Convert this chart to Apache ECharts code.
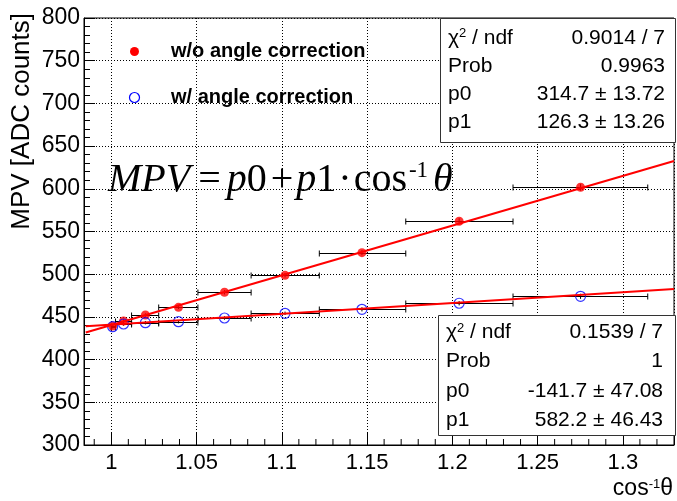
<!DOCTYPE html>
<html>
<head>
<meta charset="utf-8">
<script src="https://cdn.jsdelivr.net/npm/echarts@6/dist/echarts.min.js"></script>
<style>html,body{margin:0;padding:0;background:#fff}#c{width:677px;height:501px}</style>
</head>
<body>
<div id="c"></div>
<script>
// ---- data ----
const xVals  = [1.0008, 1.0072, 1.0200, 1.0394, 1.0664, 1.1019, 1.1470, 1.2040, 1.2752];
const xLow   = [1.0000, 1.0025, 1.0119, 1.0278, 1.0508, 1.0820, 1.1220, 1.1727, 1.2356];
const xHigh  = [1.0025, 1.0119, 1.0278, 1.0508, 1.0820, 1.1220, 1.1727, 1.2356, 1.3146];
const redY   = [439.3, 445.2, 452.2, 461.2, 478.8, 498.7, 525.2, 562.0, 601.8];
const redErr = [2.0, 2.0, 2.0, 2.0, 2.5, 2.5, 3.0, 3.5, 4.0];
const blueY  = [438.5, 441.7, 443.2, 444.4, 448.7, 454.2, 458.9, 466.0, 474.1];
const blueErr= [2.0, 2.0, 2.0, 2.0, 2.0, 2.0, 2.5, 2.5, 3.0];
const fitX    = [0.985, 1.33];
const redFit  = [431.8, 632.6];
const blueFit = [439.1, 482.7];
const xTickLabels = [1, 1.05, 1.1, 1.15, 1.2, 1.25, 1.3];
const yTickLabels = [300, 350, 400, 450, 500, 550, 600, 650, 700, 750, 800];
const xMinorTicks = [0.99, 1.01, 1.02, 1.03, 1.04, 1.06, 1.07, 1.08, 1.09, 1.11, 1.12, 1.13, 1.14,
  1.16, 1.17, 1.18, 1.19, 1.21, 1.22, 1.23, 1.24, 1.26, 1.27, 1.28, 1.29, 1.31, 1.32];
const stats1 = [["χ{s|2} / ndf", "0.9014 / 7"], ["Prob", "0.9963"], ["p0", "314.7 ± 13.72"], ["p1", "126.3 ± 13.26"]];
const stats2 = [["χ{s|2} / ndf", "0.1539 / 7"], ["Prob", "1"], ["p0", "-141.7 ± 47.08"], ["p1", "582.2 ± 46.43"]];
const legendNames = ["w/o angle correction", "w/ angle correction"];

const SANS = '"Liberation Sans", Arial, Helvetica, sans-serif';
const SERIF = '"Liberation Serif", "Times New Roman", serif';

const chart = echarts.init(document.getElementById('c'), null, {renderer: 'canvas'});

function errBarItem(params, api) {
  const x = api.value(0), y = api.value(1), lo = api.value(2), hi = api.value(3), e = api.value(4);
  const pL = api.coord([lo, y]), pR = api.coord([hi, y]);
  const pT = api.coord([x, y + e]), pB = api.coord([x, y - e]);
  const st = {stroke: '#000', lineWidth: 1};
  const cap = 3;
  const yy = Math.round(pL[1]) + 0.5;
  return {type: 'group', children: [
    {type: 'line', shape: {x1: pL[0], y1: yy, x2: pR[0], y2: yy}, style: st},
    {type: 'line', shape: {x1: pL[0], y1: yy - cap, x2: pL[0], y2: yy + cap}, style: st},
    {type: 'line', shape: {x1: pR[0], y1: yy - cap, x2: pR[0], y2: yy + cap}, style: st},
    {type: 'line', shape: {x1: pT[0], y1: pT[1], x2: pB[0], y2: pB[1]}, style: st}
  ]};
}

function statsBox(x, y, w, h, rows, rowY, rightX) {
  const els = [{type: 'rect', z: 100, shape: {x: x + 0.5, y: y + 0.5, width: w, height: h},
    style: {fill: '#fff', stroke: '#333', lineWidth: 1}}];
  rows.forEach((r, i) => {
    els.push({type: 'text', z: 101, x: x + 8, y: rowY[i], style: {text: r[0], font: '21px ' + SANS,
      fill: '#000', align: 'left', verticalAlign: 'middle',
      rich: {s: {fontSize: 13, fontFamily: SANS, verticalAlign: 'top', padding: [0, 0, 8, 0]}}}});
    els.push({type: 'text', z: 101, x: rightX, y: rowY[i], style: {text: r[1], font: '21px ' + SANS,
      fill: '#000', align: 'right', verticalAlign: 'middle'}});
  });
  return els;
}

const option = {
  animation: false,
  backgroundColor: '#fff',
  grid: {left: 84, top: 18, right: 1, bottom: 56, show: true, borderColor: '#000', borderWidth: 1, backgroundColor: 'transparent'},
  xAxis: {
    type: 'value', min: 0.984, max: 1.33, minInterval: 0.05, maxInterval: 0.05,
    axisLine: {show: true, onZero: false, lineStyle: {color: '#000', width: 1}},
    axisTick: {show: true, inside: true, length: 12, lineStyle: {color: '#000'}},
    minorTick: {show: false},
    splitLine: {show: true, lineStyle: {color: '#000', type: [1, 2], width: 1}},
    axisLabel: {color: '#000', fontFamily: SANS, fontSize: 22, margin: 7,
      formatter: function (v) {
        const k = v * 20;
        if (Math.abs(k - Math.round(k)) > 1e-6) return '';
        const idx = xTickLabels.findIndex(t => Math.abs(t - v) < 1e-6);
        return idx >= 0 ? String(xTickLabels[idx]) : '';
      }}
  },
  yAxis: {
    type: 'value', min: 300, max: 800, interval: 50,
    axisLine: {show: true, onZero: false, lineStyle: {color: '#000', width: 1}},
    axisTick: {show: true, inside: true, length: 11, lineStyle: {color: '#000'}},
    minorTick: {show: true, splitNumber: 5, length: 6, lineStyle: {color: '#000'}},
    splitLine: {show: true, lineStyle: {color: '#000', type: [1, 2], width: 1}},
    axisLabel: {color: '#000', fontFamily: SANS, fontSize: 23, margin: 4,
      formatter: function (v) { return yTickLabels.indexOf(v) >= 0 ? String(v) : ''; }}
  },
  series: [
    {type: 'custom', name: 'xminor', silent: true, z: 3, clip: false,
      data: xMinorTicks.map(v => [v]),
      renderItem: function (params, api) {
        const p = api.coord([api.value(0), 300]);
        return {type: 'line', shape: {x1: p[0], y1: p[1], x2: p[0], y2: p[1] - 6}, style: {stroke: '#000', lineWidth: 1}};
      }},
    {type: 'custom', name: 'errRed', silent: true, z: 4,
      data: xVals.map((x, i) => [x, redY[i], xLow[i], xHigh[i], redErr[i]]), renderItem: errBarItem},
    {type: 'custom', name: 'errBlue', silent: true, z: 4,
      data: xVals.map((x, i) => [x, blueY[i], xLow[i], xHigh[i], blueErr[i]]), renderItem: errBarItem},
    {type: 'scatter', name: legendNames[0], z: 5, symbol: 'circle', symbolSize: 9,
      itemStyle: {color: '#ff0000'}, data: xVals.map((x, i) => [x, redY[i]])},
    {type: 'scatter', name: legendNames[1], z: 5, symbol: 'circle', symbolSize: 10,
      itemStyle: {color: 'rgba(255,255,255,0)', borderColor: '#0000ff', borderWidth: 1.2},
      data: xVals.map((x, i) => [x, blueY[i]])},
    {type: 'line', name: 'fitRed', z: 6, showSymbol: false, symbol: 'none',
      lineStyle: {color: '#ff0000', width: 2}, data: fitX.map((x, i) => [x, redFit[i]])},
    {type: 'line', name: 'fitBlue', z: 6, showSymbol: false, symbol: 'none',
      lineStyle: {color: '#ff0000', width: 2}, data: fitX.map((x, i) => [x, blueFit[i]])}
  ],
  graphic: [
    // legend
    {type: 'circle', shape: {cx: 134.5, cy: 51.5, r: 4.5}, style: {fill: '#ff0000'}, z: 50},
    {type: 'text', x: 171, y: 51.5, z: 50, style: {text: legendNames[0], font: 'bold 20px ' + SANS, fill: '#000', verticalAlign: 'middle'}},
    {type: 'circle', shape: {cx: 134.5, cy: 97.5, r: 5}, style: {fill: 'none', stroke: '#0000ff', lineWidth: 1.2}, z: 50},
    {type: 'text', x: 171, y: 97.5, z: 50, style: {text: legendNames[1], font: 'bold 20px ' + SANS, fill: '#000', verticalAlign: 'middle'}},
    // formula
    {type: 'text', x: 108, y: 180, z: 50, style: {
      text: '{i|MPV}{o1|=}{i|p}{r|0}{o2|+}{i|p}{r|1}{d|·}{r|cos}{s|-1}{t|θ}',
      verticalAlign: 'middle', align: 'left',
      rich: {
        i: {fontFamily: SERIF, fontStyle: 'italic', fontSize: 40, color: '#000'},
        t: {fontFamily: SERIF, fontStyle: 'italic', fontSize: 40, color: '#000', padding: [0, 0, 0, 5]},
        r: {fontFamily: SERIF, fontSize: 40, color: '#000'},
        o1: {fontFamily: SERIF, fontSize: 40, color: '#000', padding: [0, 6, 0, 8]},
        o2: {fontFamily: SERIF, fontSize: 40, color: '#000', padding: [0, 3, 0, 4]},
        d: {fontFamily: SERIF, fontSize: 40, color: '#000', padding: [0, 2, 0, 2]},
        s: {fontFamily: SERIF, fontSize: 23, color: '#000', verticalAlign: 'top', padding: [0, 0, 18, 2]}
      }}},
    // y axis title
    {type: 'text', x: 22, y: 13, rotation: Math.PI / 2, z: 50, style: {text: 'MPV [ADC counts]', font: '26px ' + SANS,
      fill: '#000', align: 'right', verticalAlign: 'middle'}},
    // x axis title
    {type: 'text', x: 673, y: 489, z: 50, style: {text: 'cos{s|-1}θ', font: '23px ' + SANS, fill: '#000', align: 'right', verticalAlign: 'middle',
      rich: {s: {fontSize: 13, fontFamily: SANS, verticalAlign: 'top', padding: [0, 0, 10, 0]}}}}
  ].concat(statsBox(440, 18, 235, 124, stats1, [37.8, 65.8, 94.5, 122.5], 665))
   .concat(statsBox(438, 315, 237, 120, stats2, [332.3, 361.7, 391.7, 420], 663))
};
chart.setOption(option);
</script>
</body>
</html>
